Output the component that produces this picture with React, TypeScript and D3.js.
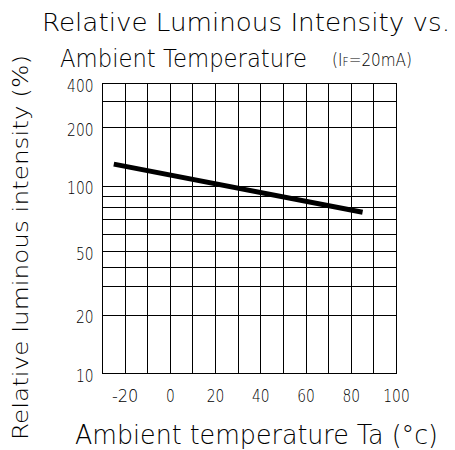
import React from "react";
import * as d3 from "d3";

// temperature (°C) -> relative luminous intensity (%)
const temps = [-25, 85];
const intensity = [130, 76];

const xTicks = [-20, 0, 20, 40, 60, 80, 100];
const yTicks = [10, 20, 50, 100, 200, 400];
const yGrid = [20, 30, 40, 50, 60, 70, 80, 90, 100, 200, 300];
const xGrid = [-20, -10, 0, 10, 20, 30, 40, 50, 60, 70, 80, 90];

const W = 455;
const H = 450;
const left = 102.5;
const right = 396.5;
const top = 83.5;
const bottom = 373.5;

const font = "'DejaVu Sans', sans-serif";

// snap to pixel centres so the 1px grid stays sharp
const px = (v: number) => Math.round(v - 0.5) + 0.5;

const App: React.FC = () => {
	const x = d3.scaleLinear().domain([-30, 100]).range([left, right]);
	// the printed log axis is hand drawn, calibrate at labelled ticks
	const y = d3
		.scaleLog()
		.domain([10, 20, 50, 100, 200, 400])
		.range([bottom, 315, 251.7, 186.3, 127.7, top]);

	const pts = temps.map((t, i) => [t, intensity[i]] as [number, number]);
	const line = d3
		.line<[number, number]>()
		.x((d) => x(d[0]))
		.y((d) => y(d[1]));

	return (
		<svg
			width={W}
			height={H}
			style={{position: "absolute", left: 0, top: 0, background: "#fff"}}
			fontFamily={font}
			fontWeight={200}
		>
			{/* title */}
			<text x={42} y={31} fontSize={25} textLength={408} lengthAdjust="spacingAndGlyphs">
				Relative Luminous Intensity vs.
			</text>
			<text x={60} y={66.5} fontSize={25} textLength={247} lengthAdjust="spacingAndGlyphs">
				Ambient Temperature
			</text>
			<text x={332} y={66} fontSize={17} textLength={80} lengthAdjust="spacingAndGlyphs">
				(I<tspan fontSize={12}>F</tspan>=20mA)
			</text>

			{/* grid */}
			<g stroke="#000" strokeWidth={1}>
				{xGrid.map((v) => (
					<line key={"x" + v} x1={px(x(v))} x2={px(x(v))} y1={px(top)} y2={px(bottom)} />
				))}
				{yGrid.map((v) => (
					<line key={"y" + v} x1={px(left)} x2={px(right)} y1={px(y(v))} y2={px(y(v))} />
				))}
				<rect
					x={px(left)}
					y={px(top)}
					width={px(right) - px(left)}
					height={px(bottom) - px(top)}
					fill="none"
				/>
			</g>

			{/* curve */}
			<path d={line(pts) || ""} fill="none" stroke="#000" strokeWidth={5} />

			{/* y tick labels */}
			{yTicks.map((v) => (
				<text
					key={"yl" + v}
					x={93.5}
					y={y(v) + 1.5}
					fontSize={18}
					textAnchor="end"
					dominantBaseline="central"
					textLength={String(v).length * 8.8}
					lengthAdjust="spacingAndGlyphs"
				>
					{v}
				</text>
			))}

			{/* x tick labels */}
			{xTicks.map((v) => (
				<text
					key={"xl" + v}
					x={x(v)}
					y={401.5}
					fontSize={18}
					textAnchor="middle"
					textLength={String(v).length * 8.8}
					lengthAdjust="spacingAndGlyphs"
				>
					{v}
				</text>
			))}

			{/* axis titles */}
			<text x={75} y={443.5} fontSize={26} textLength={363} lengthAdjust="spacingAndGlyphs">
				Ambient temperature Ta (°c)
			</text>
			<text
				transform="translate(28, 440) rotate(-90)"
				fontSize={22}
				textLength={385}
				lengthAdjust="spacingAndGlyphs"
			>
				Relative luminous intensity (%)
			</text>
		</svg>
	);
};

export default App;
